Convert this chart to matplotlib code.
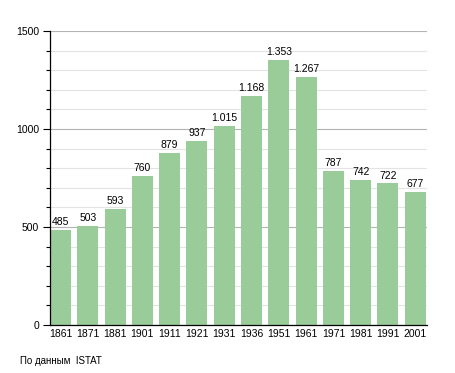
import matplotlib
matplotlib.use("Agg")
import matplotlib.pyplot as plt
from matplotlib.ticker import MultipleLocator

years = ["1861", "1871", "1881", "1901", "1911", "1921", "1931",
         "1936", "1951", "1961", "1971", "1981", "1991", "2001"]
population = [485, 503, 593, 760, 879, 937, 1015,
              1168, 1353, 1267, 787, 742, 722, 677]
source = "По данным  ISTAT"

plt.rcParams["font.family"] = ["Liberation Sans", "DejaVu Sans"]

fig = plt.figure(figsize=(4.55, 3.73), dpi=100)
ax = fig.add_axes([50 / 455, 48 / 373, 377 / 455, 294 / 373])

x = list(range(len(years)))
ax.bar(x, population, width=0.77, color="#99cc99", zorder=2)

for xi, v in zip(x, population):
    label = f"{v:,}".replace(",", ".")
    ax.text(xi, v + 15, label, ha="center", va="bottom", fontsize=7.5)

ax.set_xlim(-0.385, 13.43)
ax.set_ylim(0, 1500)
ax.yaxis.set_major_locator(MultipleLocator(500))
ax.yaxis.set_minor_locator(MultipleLocator(100))
ax.grid(which="minor", axis="y", color="#e3e3e3", linewidth=0.8, zorder=0)
ax.grid(which="major", axis="y", color="#b4b4b4", linewidth=0.8, zorder=0)

ax.set_xticks(x)
ax.set_xticklabels(years)
ax.tick_params(axis="x", length=0, labelsize=7.5, pad=3)
ax.tick_params(axis="y", which="major", length=5, width=0.8, labelsize=7.5, pad=3)
ax.tick_params(axis="y", which="minor", length=3, width=0.8)

for side in ["top", "right"]:
    ax.spines[side].set_visible(False)
ax.spines["left"].set_linewidth(0.9)
ax.spines["bottom"].set_linewidth(0.9)

fig.text(20 / 455, 1 - 361 / 373, source, fontsize=7, va="center", ha="left")

fig.savefig("out.png", dpi=100)
